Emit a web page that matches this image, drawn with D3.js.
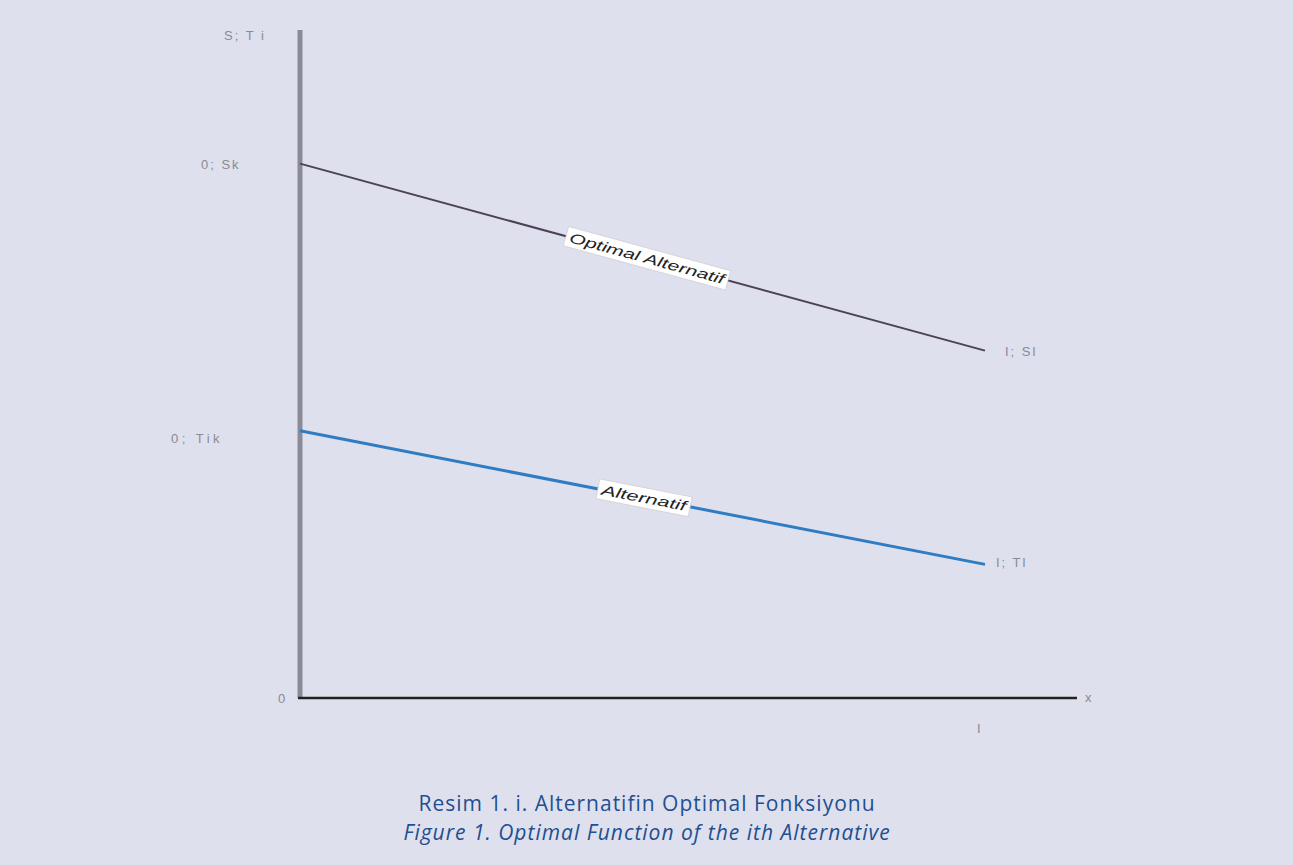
<!DOCTYPE html>
<html><head><meta charset="utf-8">
<script src="https://cdn.jsdelivr.net/npm/d3@7"></script>
<style>
html,body{margin:0;padding:0;background:#dee0ee;}
svg{display:block;}
</style></head>
<body>
<svg id="c" width="1293" height="865"></svg>
<script>
// Data
const seriesNames = ["Optimal Alternatif", "Alternatif"];
const startValues = [80, 40];   // at x = 0
const endValues = [52, 20];     // at x = I
const xDomain = [0, 1];
const yDomain = [0, 100];
const startLabels = ["0; Sk", "0; Tik"];
const endLabels = ["I; Sl", "I; Tl"];
const yAxisTitle = "S; T i";
const xAxisTitle = "x";
const originLabel = "0";
const xTickLabel = "I";
const captionLines = ["Resim 1. i. Alternatifin Optimal Fonksiyonu", "Figure 1. Optimal Function of the ith Alternative"];

const svg = d3.select("#c");
const x = d3.scaleLinear().domain(xDomain).range([300, 985]);
const y = d3.scaleLinear().domain(yDomain).range([698, 30]);

const colors = ["#4b4257", "#2f7cc2"];
const widths = [2, 3];
const labelFont = "Liberation Sans, Arial, sans-serif";
const gray = "#8a8a92";

function axLabel(xp, yp, txt, anchor, ls) {
  return svg.append("text").attr("x", xp).attr("y", yp).attr("text-anchor", anchor || "start")
    .attr("font-family", labelFont).attr("font-size", 13).attr("letter-spacing", ls == null ? 2 : ls)
    .attr("fill", gray).text(txt);
}

// y axis (gray thick)
svg.append("line").attr("x1", x(0)).attr("x2", x(0)).attr("y1", y(100)).attr("y2", y(0))
  .attr("stroke", "#8b8b97").attr("stroke-width", 5);
// x axis
svg.append("line").attr("x1", x(0) - 2).attr("x2", 1077).attr("y1", y(0)).attr("y2", y(0))
  .attr("stroke", "#222").attr("stroke-width", 2.5);

axLabel(224, y(100) + 10, yAxisTitle);
axLabel(1085, y(0) + 4, xAxisTitle);
axLabel(278, y(0) + 5, originLabel);
axLabel(977, y(0) + 35, xTickLabel);

const startX = [201, 171];
const startDy = [5, 12];
const startLs = [2, 3.5];
const endX = [1005, 996];
const endDy = [5, 3];
const labelLen = [160, 86];
seriesNames.forEach((name, i) => {
  const x0 = x(0), y0 = y(startValues[i]), x1 = x(1), y1 = y(endValues[i]);
  svg.append("line").attr("x1", x0).attr("y1", y0).attr("x2", x1).attr("y2", y1)
    .attr("stroke", colors[i]).attr("stroke-width", widths[i]);
  axLabel(startX[i], y0 + startDy[i], startLabels[i], "start", startLs[i]);
  axLabel(endX[i], y1 + endDy[i], endLabels[i]);
  // inline label
  const t = (i === 0 ? 647 : 644);
  const frac = (x.invert(t) - xDomain[0]) / (xDomain[1] - xDomain[0]);
  const cy = y0 + (y1 - y0) * frac;
  const ang = Math.atan2(y1 - y0, x1 - x0) * 180 / Math.PI;
  const g = svg.append("g").attr("transform", `translate(${t},${cy}) rotate(${ang})`);
  const txt = g.append("text").attr("text-anchor", "middle").attr("dy", "0.35em")
    .attr("font-family", labelFont).attr("font-style", "italic")
    .attr("font-size", 14).attr("fill", "#222")
    .attr("textLength", labelLen[i]).attr("lengthAdjust", "spacingAndGlyphs").text(name);
  const bb = txt.node().getBBox();
  g.insert("rect", "text").attr("x", -labelLen[i] / 2 - 4).attr("y", bb.y - 2)
    .attr("width", labelLen[i] + 8).attr("height", bb.height + 4)
    .attr("fill", "#fff").attr("stroke", "#c8c8cc").attr("stroke-width", 0.6);
});

// caption
captionLines.forEach((c, i) => {
  svg.append("text").attr("x", 647).attr("y", 811 + i * 29).attr("text-anchor", "middle")
    .attr("font-family", "Open Sans, sans-serif").attr("font-size", 21)
    .attr("letter-spacing", 1)
    .attr("font-style", i === 1 ? "italic" : "normal")
    .attr("fill", "#1f4f91").text(c);
});
</script>
</body></html>
